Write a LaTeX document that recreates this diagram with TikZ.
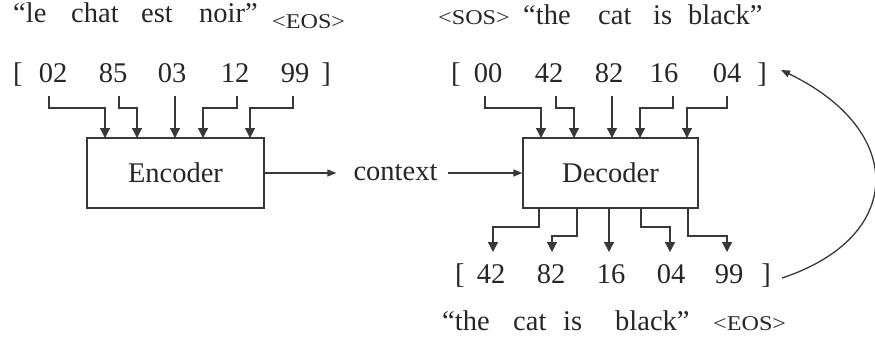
\documentclass[tikz,border=0pt]{standalone}
\usepackage{fontspec}
\setmainfont{Liberation Serif}
\usetikzlibrary{arrows.meta,calc}
\begin{document}
\begin{tikzpicture}[x=1pt,y=-1pt,
  ink/.style={draw=black!78,line width=1.3pt},
  wire/.style={ink,-{Triangle[length=10pt,width=10pt]}},
  harr/.style={ink,-{Triangle[length=9pt,width=7pt]}},
  box/.style={ink,minimum width=#1,minimum height=70pt,inner sep=0pt,font=\fontsize{28.5}{30}\selectfont,text=black!85},
  txt/.style={inner sep=0pt,font=\fontsize{28.5}{30}\selectfont,text=black!85},
  sm/.style={inner sep=0pt,font=\fontsize{21}{22}\selectfont,text=black!85},
]
\useasboundingbox (0,0) rectangle (875,341);

% ---- top-left sentence
\node[txt,anchor=base west] (l1) at (13,22) {“le};
\node[txt,anchor=base west] (l2) at (71,22) {chat};
\node[txt,anchor=base west] (l3) at (141,22) {est};
\node[txt,anchor=base west] (l4) at (199,22) {noir”};
\node[sm,anchor=base west] (leos) at (272,28) {\scalebox{1.15}[1]{<EOS>}};

% ---- encoder input tokens
\node[txt,anchor=base west] (lbL) at (13,82) {[};
\node[txt,anchor=base] (a1) at (53,82) {02};
\node[txt,anchor=base] (a2) at (113,82) {85};
\node[txt,anchor=base] (a3) at (172,82) {03};
\node[txt,anchor=base] (a4) at (235,82) {12};
\node[txt,anchor=base] (a5) at (295,82) {99};
\node[txt,anchor=base east] (lbR) at (331,82) {]};

% ---- boxes
\node[box=177pt] (enc) at (175.5,173) {Encoder};
\node[box=175pt] (dec) at (610.5,173) {Decoder};
\node[txt] (ctx) at (395.5,173) {context};

% ---- encoder input wires
\coordinate (ls1) at (49,96);  \coordinate (le1) at (105,138);
\coordinate (ls2) at (119,96); \coordinate (le2) at (137,138);
\coordinate (ls3) at (175,96); \coordinate (le3) at (175,138);
\coordinate (ls4) at (237,96); \coordinate (le4) at (203,138);
\coordinate (ls5) at (293,96); \coordinate (le5) at (250,138);
\foreach \i in {1,2,4,5} \draw[wire] (ls\i) -- ++(0,12) -| (le\i);
\draw[wire] (ls3) -- (le3);

% ---- context arrows
\draw[harr] (enc.east) -- ($(ctx.west)+(-17,0)$);
\draw[harr] ($(ctx.east)+(10,0)$) -- (dec.west);

% ---- top-right sentence
\node[sm,anchor=base west] (sos) at (438,24) {\scalebox{1.15}[1]{<SOS>}};
\node[txt,anchor=base west] (r1) at (523,24) {“the};
\node[txt,anchor=base west] (r2) at (598,24) {cat};
\node[txt,anchor=base west] (r3) at (653,24) {is};
\node[txt,anchor=base west] (r4) at (688,24) {black”};

% ---- decoder input tokens
\node[txt,anchor=base west] (tbL) at (451,82) {[};
\node[txt,anchor=base] (b1) at (488,82) {00};
\node[txt,anchor=base] (b2) at (549,82) {42};
\node[txt,anchor=base] (b3) at (609,82) {82};
\node[txt,anchor=base] (b4) at (664,82) {16};
\node[txt,anchor=base] (b5) at (727,82) {04};
\node[txt,anchor=base east] (tbR) at (767,82) {]};

\coordinate (ts1) at (485,96); \coordinate (te1) at (541,138);
\coordinate (ts2) at (556,96); \coordinate (te2) at (574,138);
\coordinate (ts3) at (612,96); \coordinate (te3) at (612,138);
\coordinate (ts4) at (673,96); \coordinate (te4) at (640,138);
\coordinate (ts5) at (727,96); \coordinate (te5) at (687,138);
\foreach \i in {1,2,4,5} \draw[wire] (ts\i) -- ++(0,12) -| (te\i);
\draw[wire] (ts3) -- (te3);

% ---- decoder outputs
\coordinate (ds1) at (539,208); \coordinate (de1) at (493,252);
\coordinate (ds2) at (577,208); \coordinate (de2) at (552,252);
\coordinate (ds3) at (609,208); \coordinate (de3) at (609,252);
\coordinate (ds4) at (641,208); \coordinate (de4) at (670,252);
\coordinate (ds5) at (688,208); \coordinate (de5) at (727,252);
\draw[wire] (ds1) -- ++(0,19) -| (de1);
\draw[wire] (ds2) -- ++(0,28) -| (de2);
\draw[wire] (ds3) -- (de3);
\draw[wire] (ds4) -- ++(0,19) -| (de4);
\draw[wire] (ds5) -- ++(0,28) -| (de5);

\node[txt,anchor=base west] (obL) at (455,283) {[};
\node[txt,anchor=base] (c1) at (491,283) {42};
\node[txt,anchor=base] (c2) at (551,283) {82};
\node[txt,anchor=base] (c3) at (611,283) {16};
\node[txt,anchor=base] (c4) at (671,283) {04};
\node[txt,anchor=base] (c5) at (729,283) {99};
\node[txt,anchor=base east] (obR) at (771,283) {]};

% ---- bottom sentence
\node[txt,anchor=base west] (s1) at (442,330) {“the};
\node[txt,anchor=base west] (s2) at (513,330) {cat};
\node[txt,anchor=base west] (s3) at (563,330) {is};
\node[txt,anchor=base west] (s4) at (615,330) {black”};
\node[sm,anchor=base west] (beos) at (713,330) {\scalebox{1.15}[1]{<EOS>}};

% ---- feedback arc
\coordinate (fb1) at (782,278);
\coordinate (fb2) at (781,70);
\draw[harr] (fb1) .. controls (906,237) and (906,130) .. (fb2);
\end{tikzpicture}
\end{document}
